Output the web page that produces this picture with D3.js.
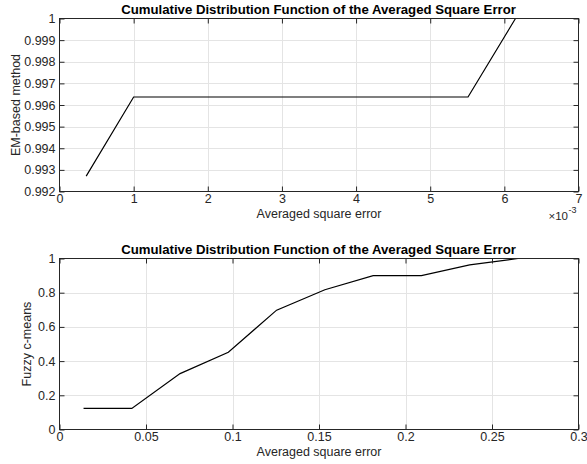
<!DOCTYPE html>
<html>
<head>
<meta charset="utf-8">
<script src="https://cdn.jsdelivr.net/npm/d3@7"></script>
<style>
body { margin: 0; background: #fff; }
svg text { font-family: "Liberation Sans", Arial, Helvetica, sans-serif; fill: #262626; }
.grid line { stroke: #e4e4e4; stroke-width: 1; }
.box { fill: none; stroke: #262626; stroke-width: 1; }
.tick line { stroke: #262626; }
.cdf { fill: none; stroke: #000; stroke-width: 1.2; }
</style>
</head>
<body>
<script>
// top panel: EM-based method (x in units of 1e-3)
var emX = [0.36, 1.0, 5.51, 6.15];
var emY = [0.99271, 0.99637, 0.99637, 1.0];
var emXTicks = [0, 1, 2, 3, 4, 5, 6, 7];
var emYTicks = [0.992, 0.993, 0.994, 0.995, 0.996, 0.997, 0.998, 0.999, 1];

// bottom panel: Fuzzy c-means
var fcmX = [0.0139, 0.0418, 0.0697, 0.0976, 0.1255, 0.1534, 0.1813, 0.2092, 0.2371, 0.2650];
var fcmY = [0.123, 0.123, 0.327, 0.452, 0.698, 0.817, 0.900, 0.900, 0.963, 1.0];
var fcmXTicks = [0, 0.05, 0.1, 0.15, 0.2, 0.25, 0.3];
var fcmYTicks = [0, 0.2, 0.4, 0.6, 0.8, 1];

var titleText = "Cumulative Distribution Function of the Averaged Square Error";
var xLabelText = "Averaged square error";

var W = 587, H = 464;
var fs = "12.5px";
var svg = d3.select("body").append("svg").attr("width", W).attr("height", H);

function panel(top, bottom, xs, ys, xDom, yDom, xTicks, yTicks, yFmt, yLabel, yLabelX) {
    var left = 59.5, right = 578.5;
    var x = d3.scaleLinear().domain(xDom).range([left, right]);
    var y = d3.scaleLinear().domain(yDom).range([bottom, top]);
    var g = svg.append("g");

    var grid = g.append("g").attr("class", "grid");
    grid.selectAll("line.gx").data(xTicks.slice(1, -1)).enter().append("line").attr("class", "gx")
        .attr("x1", d => Math.round(x(d)) + 0.5).attr("x2", d => Math.round(x(d)) + 0.5)
        .attr("y1", top).attr("y2", bottom);
    grid.selectAll("line.gy").data(yTicks.slice(1, -1)).enter().append("line").attr("class", "gy")
        .attr("y1", d => Math.round(y(d)) + 0.5).attr("y2", d => Math.round(y(d)) + 0.5)
        .attr("x1", left).attr("x2", right);

    var clipId = "clip" + Math.round(top);
    g.append("clipPath").attr("id", clipId).append("rect")
        .attr("x", left).attr("y", top).attr("width", right - left).attr("height", bottom - top);

    var line = d3.line().x(d => x(d[0])).y(d => y(d[1]));
    g.append("path").attr("class", "cdf").attr("clip-path", "url(#" + clipId + ")")
        .attr("d", line(d3.zip(xs, ys)));

    // axes, MATLAB-like inward ticks
    var xb = d3.axisBottom(x).tickValues(xTicks).tickSize(-5).tickPadding(3).tickFormat(d3.format("~g"));
    var xt = d3.axisTop(x).tickValues(xTicks).tickSize(-5).tickFormat("");
    var yl = d3.axisLeft(y).tickValues(yTicks).tickSize(-5).tickPadding(4).tickFormat(yFmt);
    var yr = d3.axisRight(y).tickValues(yTicks).tickSize(-5).tickFormat("");

    [[xb, "translate(0," + bottom + ")"], [xt, "translate(0," + top + ")"],
     [yl, "translate(" + left + ",0)"], [yr, "translate(" + right + ",0)"]].forEach(function (a) {
        var ag = g.append("g").attr("transform", a[1]).call(a[0]);
        ag.select(".domain").remove();
        ag.selectAll("text").style("font-size", fs).style("fill", "#262626");
    });

    g.append("rect").attr("class", "box")
        .attr("x", left).attr("y", top).attr("width", right - left).attr("height", bottom - top);

    g.append("text").attr("x", (left + right) / 2 - 0.5).attr("y", top - 5)
        .attr("text-anchor", "middle").style("font-size", "13.2px").style("font-weight", "bold")
        .style("fill", "#000").text(titleText);

    g.append("text").attr("x", (left + right) / 2).attr("y", bottom + 26)
        .attr("text-anchor", "middle").style("font-size", fs).text(xLabelText);

    g.append("text").attr("transform", "translate(" + yLabelX + "," + (top + bottom) / 2 + ") rotate(-90)")
        .attr("text-anchor", "middle").style("font-size", fs).text(yLabel);

    return { x: x, y: y };
}

var p1 = panel(18.5, 191.5, emX, emY, [0, 7], [0.992, 1], emXTicks, emYTicks,
    d3.format(".3~f"), "EM-based method", 20);
var p2 = panel(258.5, 429.5, fcmX, fcmY, [0, 0.3], [0, 1], fcmXTicks, fcmYTicks,
    d3.format("~g"), "Fuzzy c-means", 31);

// exponent label for the top x axis
svg.append("text").attr("x", 568).attr("y", 220).attr("text-anchor", "end")
    .style("font-size", "11.5px").text("\u00d710");
svg.append("text").attr("x", 568.5).attr("y", 213).style("font-size", "9px").text("-3");
</script>
</body>
</html>
